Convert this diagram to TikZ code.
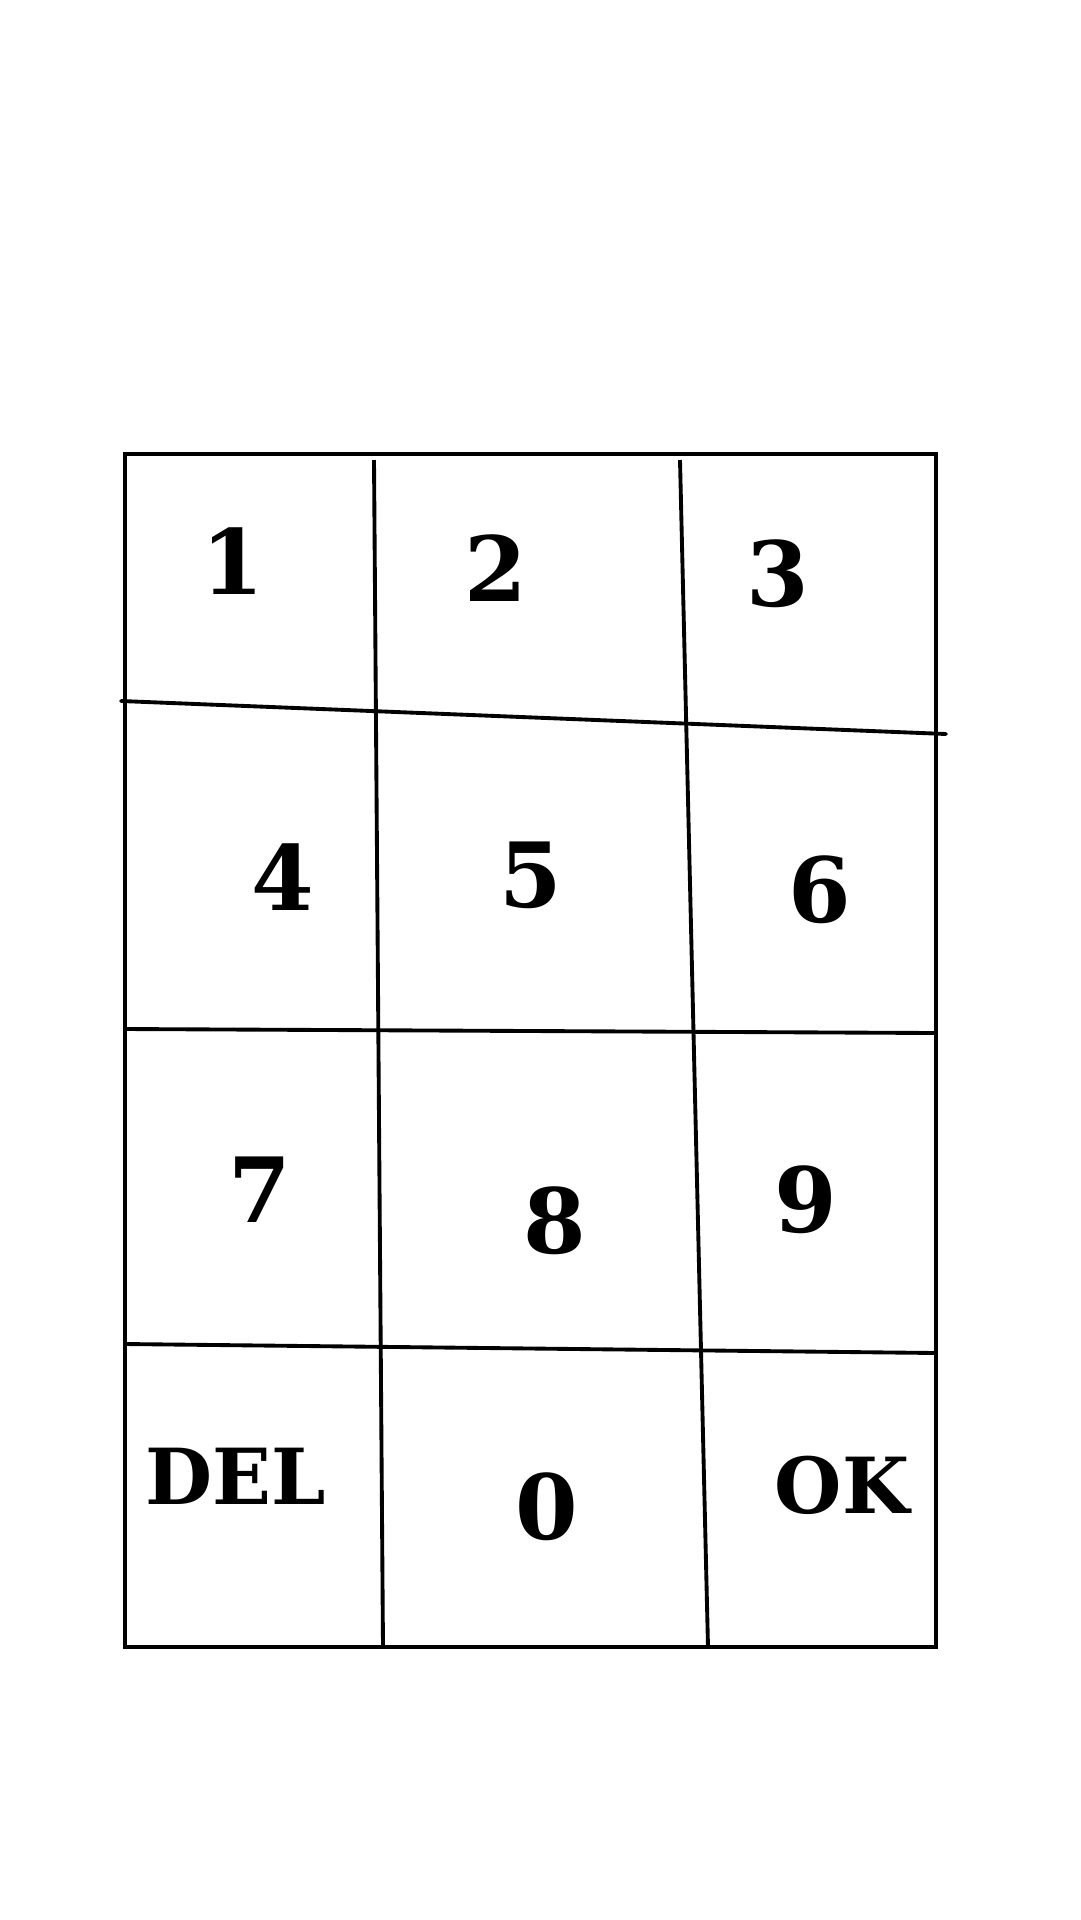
\documentclass[tikz,border=0pt]{standalone}
\usepackage{fontspec}
\setmainfont{DejaVu Serif}

\begin{document}
\begin{tikzpicture}[x=0.1mm, y=-0.1mm,
    key/.style={font=\bfseries\fontsize{25.6}{30}\selectfont},
    word/.style={font=\bfseries\fontsize{22}{26}\selectfont},
    gridline/.style={line width=1.1pt}]
    \useasboundingbox (0,0) rectangle (1080,1920);

    % Frame
    \draw[line width=1.3pt] (125,454) rectangle (936,1647);

    % Grid lines
    \draw[gridline] (374,460) -- (383,1647);
    \draw[gridline] (680,460) -- (708,1647);
    \draw[gridline, line cap=round] (121,701) -- (946,734);
    \draw[gridline] (125,1029) -- (936,1033);
    \draw[gridline] (125,1344) -- (936,1353);

    % Keys
    \node[key] (k1) at (233,561) {1};
    \node[key] (k2) at (496,568) {2};
    \node[key] (k3) at (778,574) {3};
    \node[key] (k4) at (283,877) {4};
    \node[key] (k5) at (531,875) {5};
    \node[key] (k6) at (820,890) {6};
    \node[key] (k7) at (260,1190) {7};
    \node[key] (k8) at (555,1221) {8};
    \node[key] (k9) at (806,1200) {9};
    \node[key] (k0) at (547,1507) {0};
    \node[word] (del) at (236,1476) {DEL};
    \node[word] (ok) at (842,1485) {OK};
\end{tikzpicture}
\end{document}
